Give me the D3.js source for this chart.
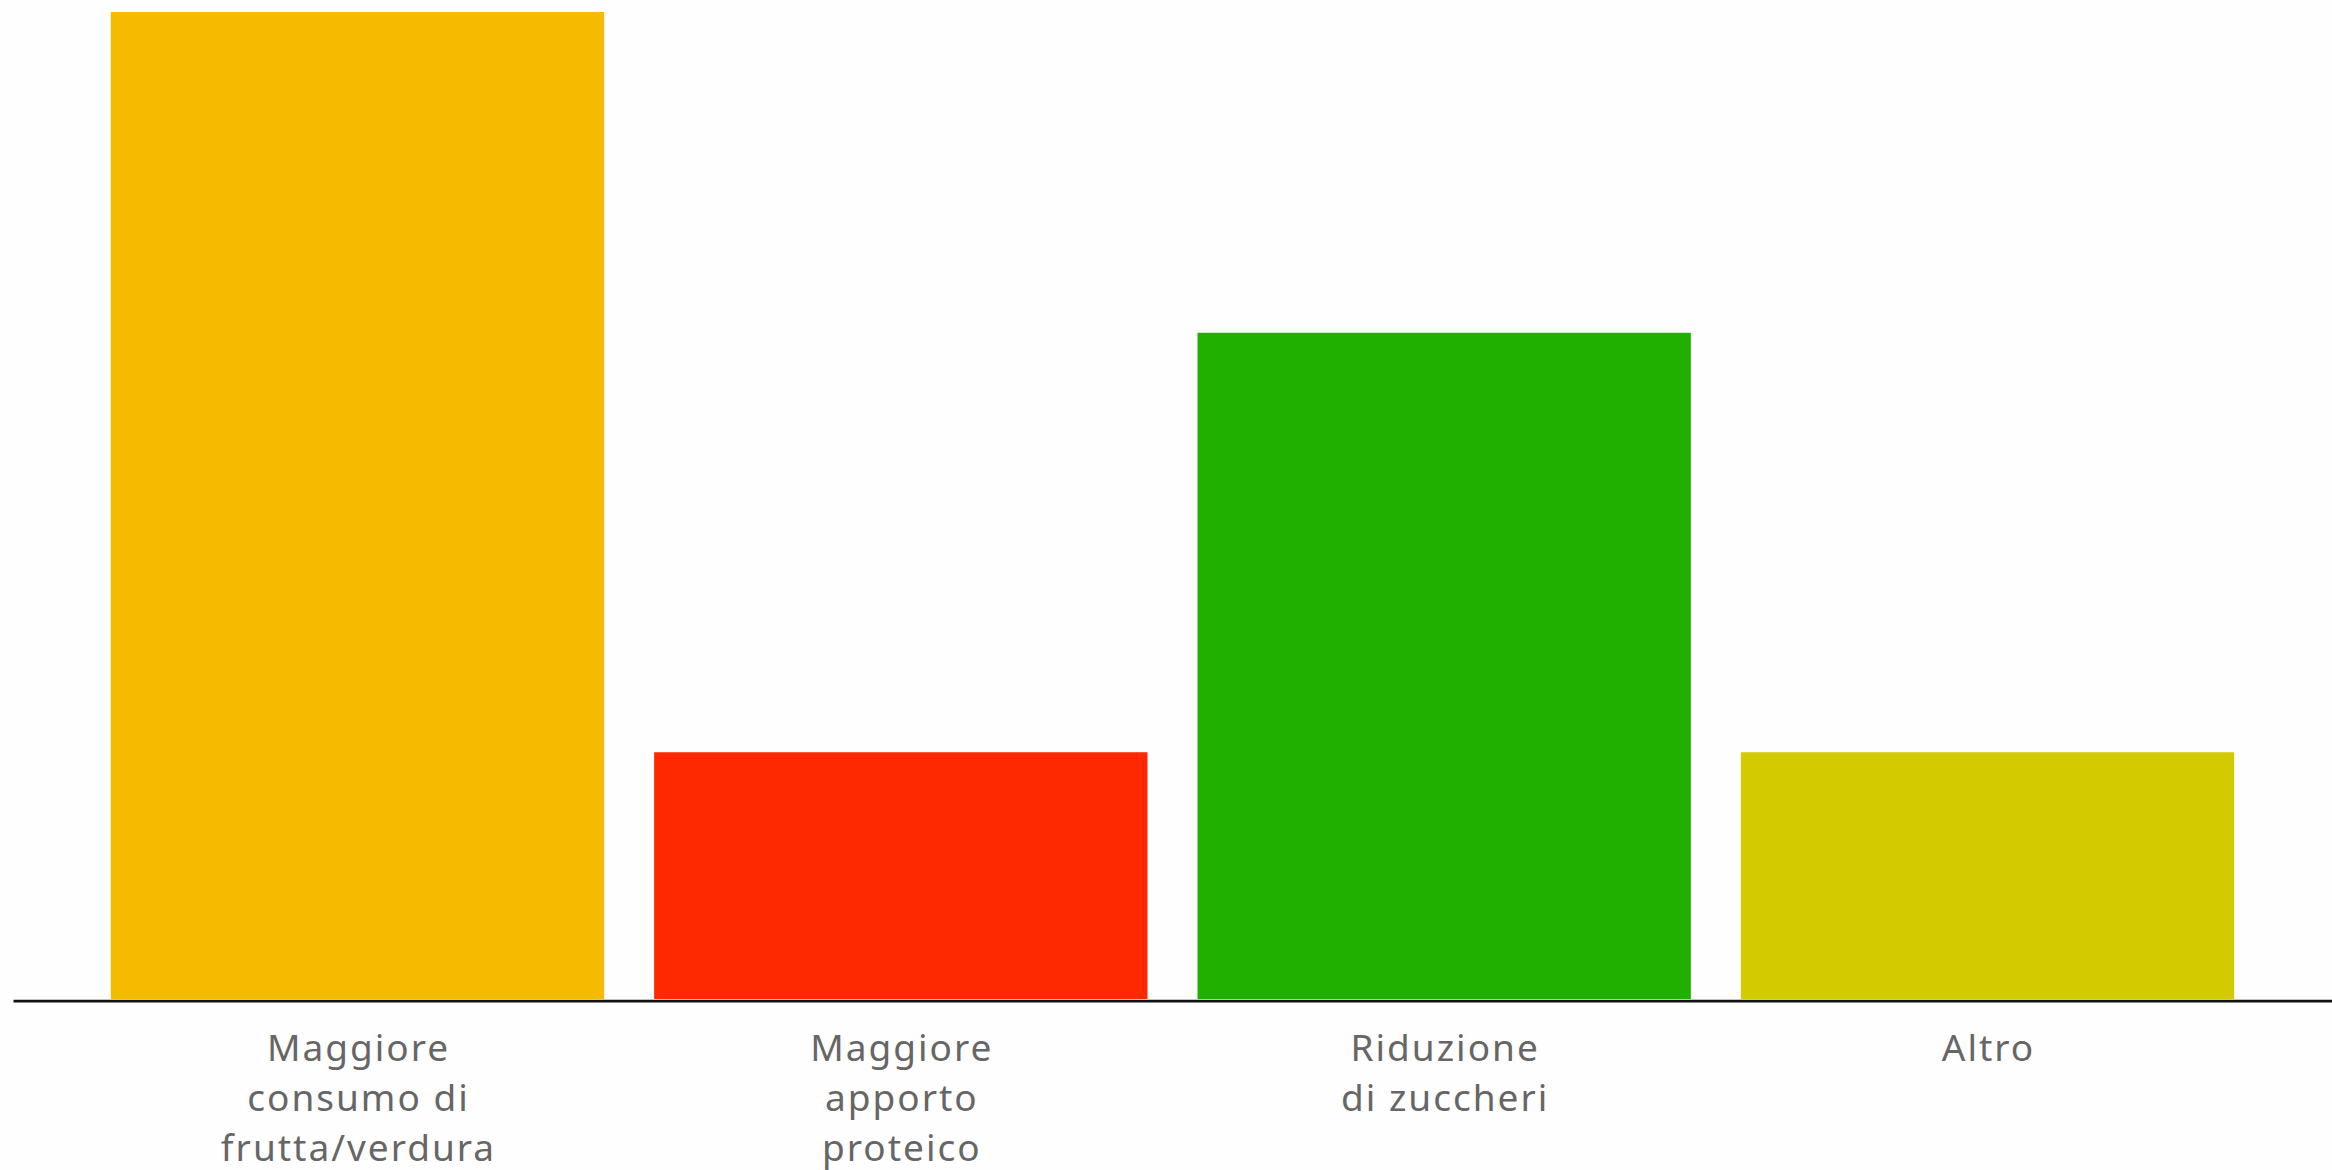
<!DOCTYPE html>
<html>
<head>
<meta charset="utf-8">
<script src="https://cdn.jsdelivr.net/npm/d3@7"></script>
<style>
  html, body { margin: 0; padding: 0; background: #fefefe; }
  svg { display: block; }
</style>
</head>
<body>
<svg id="chart" width="2332" height="1170"></svg>
<script>
const categories = ["Maggiore\nconsumo di\nfrutta/verdura", "Maggiore\napporto\nproteico", "Riduzione\ndi zuccheri", "Altro"];
const values = [40, 10, 27, 10];
const colors = ["#F6BA00", "#FE2900", "#1FB000", "#D3CB00"];
const yMax = 40;

const svg = d3.select("#chart");
const baseY = 999, topY = 12;

const x = d3.scaleBand()
  .domain(categories)
  .range([13, 2332])
  .paddingInner(0.092)
  .paddingOuter(0.18);

const y = d3.scaleLinear().domain([0, yMax]).range([baseY, topY]);

svg.append("g")
  .selectAll("rect")
  .data(values)
  .join("rect")
  .attr("x", (d, i) => x(categories[i]))
  .attr("width", x.bandwidth())
  .attr("y", d => y(d))
  .attr("height", d => baseY - y(d))
  .attr("fill", (d, i) => colors[i]);

const axis = svg.append("g")
  .attr("transform", `translate(0,${baseY + 1.6})`)
  .call(d3.axisBottom(x).tickSize(0).tickSizeOuter(0).tickFormat(() => ""));

axis.select(".domain").attr("stroke", "#111").attr("stroke-width", 2.6);

axis.selectAll(".tick text").remove();
axis.selectAll(".tick").each(function(d) {
  const lines = d.split("\n");
  const t = d3.select(this).append("text")
    .attr("fill", "#666")
    .attr("text-anchor", "middle")
    .style("font-family", "'Noto Sans', sans-serif")
    .style("font-size", "37px")
    .style("letter-spacing", "2px");
  lines.forEach((ln, i) => {
    t.append("tspan").attr("x", 1).attr("y", 60 + i * 50).text(ln);
  });
});
</script>
</body>
</html>
